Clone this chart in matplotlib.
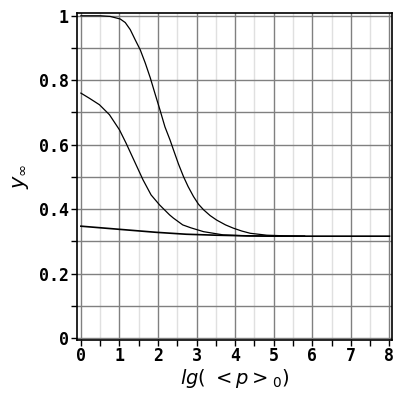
import matplotlib
matplotlib.use('Agg')
import matplotlib.pyplot as plt
from matplotlib.ticker import MultipleLocator

# curves
x_top = [0.0, 0.5, 0.76, 1.02, 1.15, 1.28, 1.41, 1.54, 1.67, 1.8, 1.93, 2.05, 2.18, 2.31, 2.4, 2.53,
         2.66, 2.78, 2.92, 3.05, 3.18, 3.35, 3.52, 3.75, 3.95, 4.17, 4.39, 4.82, 5.3, 5.8]
y_top = [1.0, 1.0, 0.998, 0.99, 0.979, 0.957, 0.925, 0.894, 0.853, 0.807, 0.755, 0.708, 0.655, 0.615, 0.584, 0.54,
         0.501, 0.47, 0.439, 0.415, 0.398, 0.38, 0.366, 0.351, 0.341, 0.332, 0.325, 0.319, 0.317, 0.316]

x_mid = [0.0, 0.22, 0.48, 0.74, 1.0, 1.17, 1.39, 1.61, 1.82, 2.04, 2.3, 2.4, 2.64, 2.85, 3.18, 3.69, 4.3, 5.0, 5.8]
y_mid = [0.760, 0.744, 0.724, 0.693, 0.646, 0.605, 0.548, 0.491, 0.444, 0.413, 0.382, 0.372, 0.351, 0.342, 0.330, 0.320, 0.317, 0.316, 0.316]

x_low = [0.0, 0.92, 1.95, 2.73, 3.5, 4.3, 5.0, 6.0, 7.0, 8.0]
y_low = [0.347, 0.338, 0.328, 0.322, 0.319, 0.317, 0.316, 0.316, 0.316, 0.316]

fig = plt.figure(figsize=(4, 4), dpi=100)
ax = fig.add_axes([0.193, 0.151, 0.786, 0.816])

ax.plot(x_top, y_top, color='black', lw=0.9)
ax.plot(x_mid, y_mid, color='black', lw=0.9)
ax.plot(x_low, y_low, color='black', lw=1.2)

ax.set_xlim(-0.096, 8.057)
ax.set_ylim(-0.005, 1.008)

ax.xaxis.set_major_locator(MultipleLocator(1))
ax.xaxis.set_minor_locator(MultipleLocator(0.5))
ax.yaxis.set_major_locator(MultipleLocator(0.2))
ax.yaxis.set_minor_locator(MultipleLocator(0.1))

ax.grid(which='major', axis='both', color='#808080', lw=1)
ax.grid(which='minor', axis='x', color='#e0e0e0', lw=1)
ax.grid(which='minor', axis='y', color='#808080', lw=1)
ax.set_axisbelow(True)

ax.yaxis.set_major_formatter(plt.FuncFormatter(lambda v, p: '0' if abs(v) < 1e-9 else ('1' if abs(v - 1) < 1e-9 else '%.1f' % v)))

ax.tick_params(which='both', direction='out', length=4, width=1, color='black')
for lbl in ax.get_xticklabels() + ax.get_yticklabels():
    lbl.set_family('DejaVu Sans Mono')
    lbl.set_fontweight('bold')
    lbl.set_fontsize(12)
ax.tick_params(axis='x', pad=1)
ax.tick_params(axis='y', pad=2)

for s in ax.spines.values():
    s.set_linewidth(1.2)

ax.set_xlabel(r'$lg(\ <p>_0)$', fontsize=14, labelpad=2)
ax.set_ylabel(r'$y_\infty$', fontsize=15, labelpad=6)

fig.savefig('out.png', dpi=100)
